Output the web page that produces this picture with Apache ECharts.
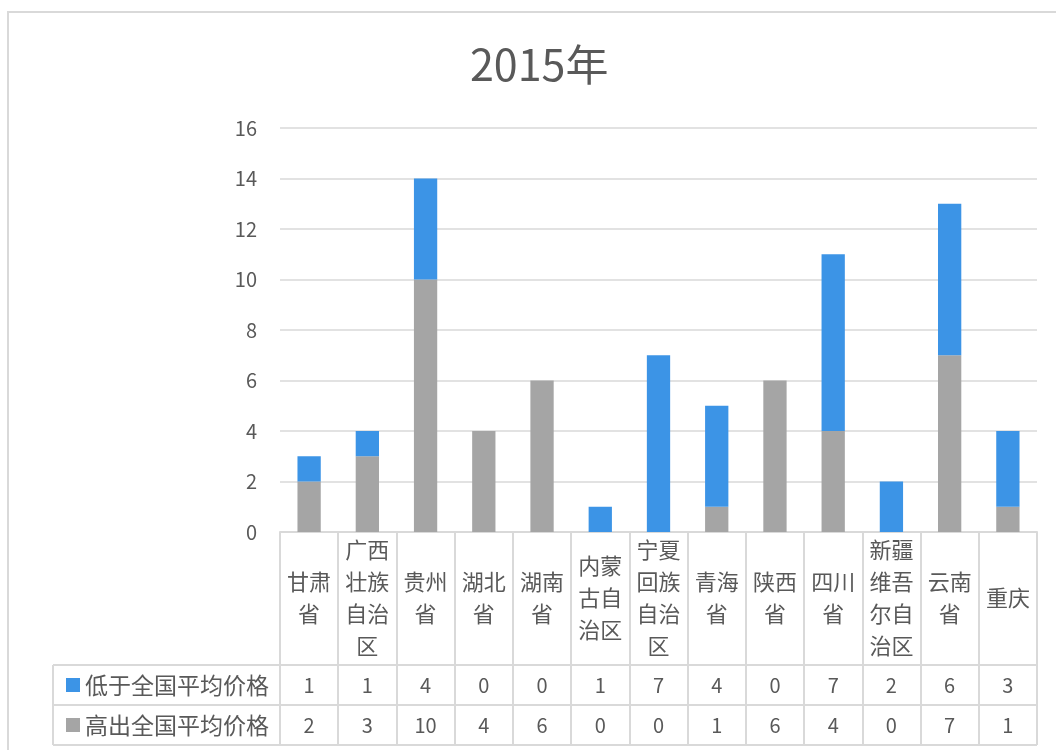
<!DOCTYPE html>
<html>
<head>
<meta charset="utf-8">
<script src="https://cdn.jsdelivr.net/npm/echarts@6/dist/echarts.min.js"></script>
<style>
  html, body { margin: 0; padding: 0; background: #fff; }
  #main { width: 1056px; height: 750px; }
</style>
</head>
<body>
<div id="main"></div>
<script>
const categories = ['甘肃省', '广西壮族自治区', '贵州省', '湖北省', '湖南省', '内蒙古自治区', '宁夏回族自治区', '青海省', '陕西省', '四川省', '新疆维吾尔自治区', '云南省', '重庆']
const lowName = '低于全国平均价格'
const highName = '高出全国平均价格'
const lowValues = [1, 1, 4, 0, 0, 1, 7, 4, 0, 7, 2, 6, 3]
const highValues = [2, 3, 10, 4, 6, 0, 0, 1, 6, 4, 0, 7, 1]

const font = '"Noto Sans CJK SC", "Noto Sans", sans-serif'
const textColor = '#595959'
const lineColor = '#D9D9D9'

// grid edges, also used for the table lines underneath
const gridLeft = 280
const gridRight = 1037
const tableLeft = 53
const rowTops = [665, 705, 745]

const wrap2 = s => s.match(/.{1,2}/g).join('\n')

const chart = echarts.init(document.getElementById('main'))

const valueAxis = (values, margin) => ({
  type: 'category',
  data: categories,
  position: 'bottom',
  axisLine: { show: false },
  axisTick: { show: false },
  splitLine: { show: false },
  axisLabel: {
    interval: 0,
    margin: margin,
    verticalAlign: 'middle',
    fontSize: 20,
    fontFamily: font,
    color: textColor,
    formatter: (v, i) => String(values[i])
  }
})

const option = {
  backgroundColor: '#fff',
  animation: false,
  title: {
    text: '2015年',
    left: 465,
    top: 38,
    textStyle: { fontSize: 43, fontWeight: 'normal', color: textColor, fontFamily: font }
  },
  legend: {
    orient: 'vertical',
    left: 61,
    top: 668,
    itemWidth: 14,
    itemHeight: 14,
    itemGap: 16,
    icon: 'rect',
    data: [lowName, highName],
    textStyle: { fontSize: 23, lineHeight: 24, color: textColor, fontFamily: font }
  },
  grid: { left: gridLeft, right: 1056 - gridRight, top: 128, bottom: 218, containLabel: false },
  xAxis: [
    {
      type: 'category',
      data: categories,
      axisLine: { lineStyle: { color: lineColor, width: 2 } },
      axisTick: { show: true, length: rowTops[2] - 532, lineStyle: { color: lineColor, width: 2 } },
      axisLabel: {
        interval: 0,
        margin: 66,
        verticalAlign: 'middle',
        fontSize: 22,
        lineHeight: 32,
        fontFamily: font,
        color: textColor,
        formatter: v => wrap2(v)
      }
    },
    valueAxis(lowValues, 153),
    valueAxis(highValues, 193)
  ],
  yAxis: {
    type: 'value',
    min: 0,
    max: 16,
    interval: 2,
    axisLine: { show: false },
    axisTick: { show: false },
    splitLine: { lineStyle: { color: lineColor, width: 1.5 } },
    axisLabel: { fontSize: 20, margin: 23, color: textColor, fontFamily: font }
  },
  series: [
    {
      name: highName,
      type: 'bar',
      stack: 'total',
      barWidth: '40%',
      itemStyle: { color: '#A5A5A5' },
      data: highValues
    },
    {
      name: lowName,
      type: 'bar',
      stack: 'total',
      barWidth: '40%',
      itemStyle: { color: '#3C94E6' },
      data: lowValues
    }
  ],
  graphic: [
    {
      type: 'rect',
      shape: { x: 8, y: 12, width: 1100, height: 800 },
      style: { fill: 'none', stroke: lineColor, lineWidth: 2 },
      z: -1
    },
    ...rowTops.map(y => ({
      type: 'line',
      shape: { x1: tableLeft, y1: y, x2: gridRight, y2: y },
      style: { stroke: lineColor, lineWidth: 2 }
    })),
    {
      type: 'line',
      shape: { x1: tableLeft, y1: rowTops[0], x2: tableLeft, y2: rowTops[2] },
      style: { stroke: lineColor, lineWidth: 2 }
    }
  ]
}

chart.setOption(option)
</script>
</body>
</html>
